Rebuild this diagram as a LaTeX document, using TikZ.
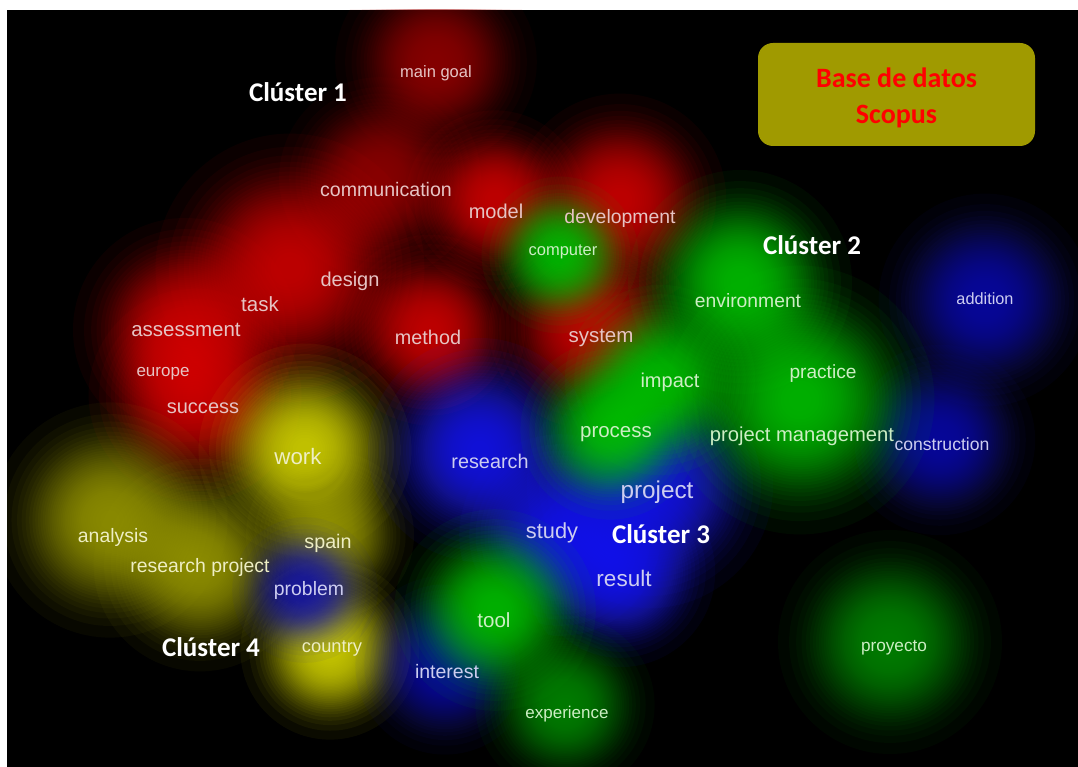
\documentclass[tikz,border=0pt]{standalone}
\usepackage{fontspec}
\setmainfont{Liberation Sans}
\newfontfamily\clfont{Carlito}

\definecolor{redblob}{RGB}{225,0,0}
\definecolor{greenblob}{RGB}{0,210,0}
\definecolor{blueblob}{RGB}{35,35,255}
\definecolor{yellowblob}{RGB}{230,230,0}
\definecolor{redtext}{RGB}{230,196,196}
\definecolor{greentext}{RGB}{205,238,196}
\definecolor{bluetext}{RGB}{205,205,240}
\definecolor{yellowtext}{RGB}{238,238,196}
\definecolor{boxfill}{RGB}{160,154,0}

\newcommand{\fsz}[1]{\fontsize{#1}{#1}\selectfont}
% a soft spot: 39 stacked discs, radii shrinking like a gaussian
\newcommand{\blob}[4]{%
  \foreach \k in {1,...,39}{\fill[#1] (#2,#3) circle ({1.12*#4*sqrt(ln(40/\k)/ln(40))*1pt});}}

\begin{document}
\begin{tikzpicture}[x=1pt,y=-1pt,
    rblob/.style={fill=redblob,fill opacity=0.05},
    gblob/.style={fill=greenblob,fill opacity=0.05},
    bblob/.style={fill=blueblob,fill opacity=0.05},
    yblob/.style={fill=yellowblob,fill opacity=0.05},
    rdim/.style={fill=redblob!72!black,fill opacity=0.05},
    gdim/.style={fill=greenblob!72!black,fill opacity=0.05},
    bdim/.style={fill=blueblob!72!black,fill opacity=0.05},
    ydim/.style={fill=yellowblob!72!black,fill opacity=0.05},
    lbl/.style={inner sep=0pt},
    rlbl/.style={lbl,text=redtext},
    glbl/.style={lbl,text=greentext},
    blbl/.style={lbl,text=bluetext},
    ylbl/.style={lbl,text=yellowtext},
    clus/.style={inner sep=0pt,text=white,font=\clfont\bfseries\fsz{27}}]
  \useasboundingbox (0,0) rectangle (1078,767);
  \fill[white] (0,0) rectangle (1078,767);
  \fill[black] (7,10) rectangle (1078,767);

  \begin{scope}
    \clip (7,10) rectangle (1078,767);
    % cluster 1
    \blob{rdim}{436}{62}{90}
    \blob{rdim}{380}{178}{90}
    \blob{rblob}{495}{200}{80}
    \blob{rblob}{620}{200}{95}
    \blob{rblob}{290}{268}{120}
    \blob{rblob}{185}{330}{100}
    \blob{rblob}{430}{330}{85}
    \blob{rblob}{590}{328}{90}
    \blob{rblob}{195}{395}{95}
    % cluster 4
    \blob{yblob}{305}{450}{95}
    \blob{ydim}{110}{520}{105}
    \blob{ydim}{200}{565}{95}
    \blob{ydim}{330}{535}{75}
    \blob{yblob}{330}{650}{80}
    % cluster 3
    \blob{bdim}{985}{300}{95}
    \blob{bdim}{940}{440}{85}
    \blob{bblob}{480}{450}{100}
    \blob{bblob}{650}{485}{110}
    \blob{bblob}{560}{535}{90}
    \blob{bblob}{620}{572}{85}
    \blob{bdim}{305}{590}{65}
    \blob{bdim}{445}{665}{80}
    % cluster 2
    \blob{gblob}{560}{255}{70}
    \blob{gblob}{740}{282}{100}
    \blob{gblob}{800}{400}{120}
    \blob{gblob}{660}{380}{85}
    \blob{gblob}{610}{430}{80}
    \blob{gblob}{495}{610}{90}
    \blob{gdim}{565}{705}{80}
    \blob{gdim}{890}{642}{100}
  \end{scope}

  % terms
  \node[rlbl,font=\fsz{16.5}] (maingoal) at (436,73) {main goal};
  \node[rlbl,font=\fsz{19.6}] (communication) at (386,189) {communication};
  \node[rlbl,font=\fsz{20}] (model) at (496,211) {model};
  \node[rlbl,font=\fsz{19.4}] (development) at (620,218) {development};
  \node[glbl,font=\fsz{16.5}] (computer) at (563,252) {computer};
  \node[rlbl,font=\fsz{20}] (design) at (350,281) {design};
  \node[rlbl,font=\fsz{20.5}] (task) at (260,304) {task};
  \node[rlbl,font=\fsz{20.5}] (assessment) at (186,330) {assessment};
  \node[rlbl,font=\fsz{19.8}] (method) at (428,337) {method};
  \node[rlbl,font=\fsz{20.5}] (system) at (601,338) {system};
  \node[rlbl,font=\fsz{17}] (europe) at (163,374) {europe};
  \node[rlbl,font=\fsz{20}] (success) at (203,408) {success};
  \node[glbl,font=\fsz{19.3}] (environment) at (748,301) {environment};
  \node[blbl,font=\fsz{16.3}] (addition) at (985,299) {addition};
  \node[glbl,font=\fsz{20}] (impact) at (670,382) {impact};
  \node[glbl,font=\fsz{19.1}] (practice) at (823,374) {practice};
  \node[glbl,font=\fsz{20.5}] (process) at (616,434) {process};
  \node[glbl,font=\fsz{20.2}] (projmgmt) at (802,436) {project management};
  \node[blbl,font=\fsz{17.6}] (construction) at (942,444) {construction};
  \node[ylbl,font=\fsz{22.3}] (work) at (298,457) {work};
  \node[blbl,font=\fsz{19.8}] (research) at (490,461) {research};
  \node[blbl,font=\fsz{24.3}] (project) at (657,492) {project};
  \node[blbl,font=\fsz{21.8}] (study) at (552,533) {study};
  \node[blbl,font=\fsz{22.5}] (result) at (624,578) {result};
  \node[ylbl,font=\fsz{19.4}] (analysis) at (113,537) {analysis};
  \node[ylbl,font=\fsz{19.7}] (spain) at (328,543) {spain};
  \node[ylbl,font=\fsz{19.4}] (resproject) at (200,567) {research project};
  \node[blbl,font=\fsz{19.4}] (problem) at (309,590) {problem};
  \node[glbl,font=\fsz{20.5}] (tool) at (494,620) {tool};
  \node[ylbl,font=\fsz{18.3}] (country) at (332,648) {country};
  \node[blbl,font=\fsz{19.5}] (interest) at (447,672) {interest};
  \node[glbl,font=\fsz{17}] (experience) at (567,714) {experience};
  \node[glbl,font=\fsz{17.2}] (proyecto) at (894,648) {proyecto};

  % cluster names
  \node[clus] (cl1) at (298,92) {Clúster 1};
  \node[clus] (cl2) at (812,245) {Clúster 2};
  \node[clus] (cl3) at (661,534) {Clúster 3};
  \node[clus] (cl4) at (211,647) {Clúster 4};

  % source box
  \node[fill=boxfill,rounded corners=15pt,minimum width=277pt,minimum height=103pt]
    (sourcebox) at (896.5,94.5) {};
  \node[inner sep=0pt,align=center,text=red,font=\clfont\bfseries\fsz{28}] (source)
    at (896.5,97.5) {Base de datos\\[8pt]Scopus};
\end{tikzpicture}
\end{document}
